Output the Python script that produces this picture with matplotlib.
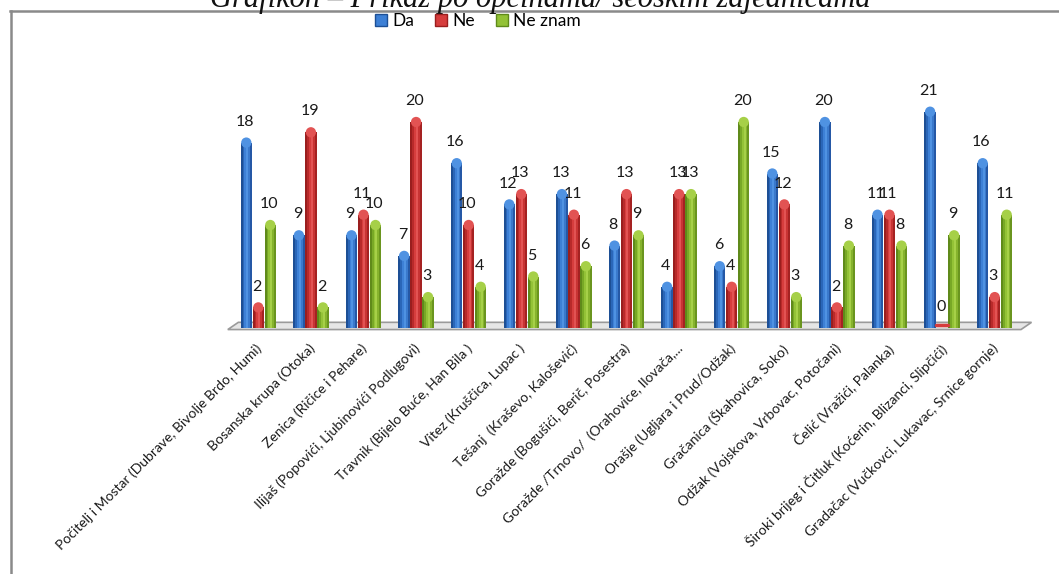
import matplotlib
matplotlib.use("Agg")
import matplotlib.pyplot as plt
import numpy as np
from matplotlib.patches import Patch, Polygon
from matplotlib.lines import Line2D

categories = [
    "Počitelj i Mostar (Dubrave, Bivolje Brdo, Humi)",
    "Bosanska krupa (Otoka)",
    "Zenica (Ričice i Pehare)",
    "Ilijaš (Popovići, Ljubinovići Podlugovi)",
    "Travnik (Bijelo Buće, Han Bila )",
    "Vitez (Kruščica, Lupac )",
    "Tešanj  (Kraševo, Kalošević)",
    "Goražde (Bogušići, Berič, Posestra)",
    "Goražde /Trnovo/  (Orahovice, Ilovača,...",
    "Orašje (Ugljara i Prud/Odžak)",
    "Gračanica (Škahovica, Soko)",
    "Odžak (Vojskova, Vrbovac, Potočani)",
    "Čelić (Vražići, Palanka)",
    "Široki brijeg i Čitluk (Koćerin, Blizanci, Slipčići)",
    "Gradačac (Vučkovci, Lukavac, Srnice gornje)",
]
series_names = ["Da", "Ne", "Ne znam"]
da = [18, 9, 9, 7, 16, 12, 13, 8, 4, 6, 15, 20, 11, 21, 16]
ne = [2, 19, 11, 20, 10, 13, 11, 13, 13, 4, 12, 2, 11, 0, 3]
ne_znam = [10, 2, 10, 3, 4, 5, 6, 9, 13, 20, 3, 8, 8, 9, 11]
title = "Grafikon – Prikaz po općinama/ seoskim zajednicama"

W, H = 1059, 574
fig = plt.figure(figsize=(W / 100, H / 100), dpi=100)
fig.patch.set_facecolor("white")

# axes placement in pixels
x_left, x_right = 232, 1021
y_base = 328
ppu = 10.3
ymax = 25
y_top = y_base - ymax * ppu
ax = fig.add_axes([x_left / W, 1 - y_base / H, (x_right - x_left) / W, (y_base - y_top) / H])
ax.set_xlim(-0.5, len(categories) - 0.5)
ax.set_ylim(0, ymax)
ax.axis("off")
ax.patch.set_alpha(0)

x = np.arange(len(categories))
offset = 0.228
bw = 0.215

palettes = [
    ["#1d4f95", "#2a66b8", "#3d80d6", "#4f92e2", "#3a79cc", "#2558a6"],
    ["#9a1e1e", "#b82a2a", "#d63d3d", "#e25353", "#c83434", "#a52222"],
    ["#5f8a1a", "#78a826", "#93c236", "#a6d048", "#86b32d", "#6a951f"],
]
data = [da, ne, ne_znam]

# floor
floor = Polygon([(-0.58, -0.15), (14.5, -0.15), (14.7, 0.55), (-0.38, 0.55)],
                closed=True, facecolor="#e6e6e6", edgecolor="#9a9a9a", lw=1.2,
                clip_on=False, zorder=1)
ax.add_patch(floor)

nsl = len(palettes[0])
for si, (vals, pal) in enumerate(zip(data, palettes)):
    xc = x + (si - 1) * offset
    sw = bw / nsl
    for k in range(nsl):
        xs = xc - bw / 2 + sw * (k + 0.5)
        ax.bar(xs, vals, width=sw * 1.02, color=pal[k], linewidth=0, zorder=3)
    # rounded cap
    sizes = [55 if v > 0 else 0 for v in vals]
    ax.scatter(xc, vals, s=sizes, marker="o", color=pal[3], zorder=4,
               linewidths=0, clip_on=False)
    for xi, v in zip(xc, vals):
        if v == 0:
            ax.plot([xi - bw / 2, xi + bw / 2], [0.3, 0.3], color=pal[2], lw=2.5,
                    solid_capstyle="round", zorder=4)
        ax.annotate(str(v), (xi, v), xytext=(-1, 15), textcoords="offset points",
                    ha="center", va="center", fontsize=11.5, color="#1a1a1a",
                    family="Lato", zorder=6, annotation_clip=False)

# x labels
for xi, lab in zip(x, categories):
    ax.annotate(lab, (xi, 0), xytext=(-2, -10), textcoords="offset points",
                ha="right", va="top", rotation=45, rotation_mode="anchor",
                fontsize=10, family="Lato", color="#1a1a1a", annotation_clip=False)

# legend
handles = [Patch(facecolor=palettes[i][2], edgecolor=palettes[i][0], label=series_names[i])
           for i in range(3)]
fig.legend(handles=handles, loc="center", bbox_to_anchor=(478 / W, 1 - 21 / H),
           ncol=3, frameon=False, handlelength=0.7, handleheight=0.7,
           handletextpad=0.3, columnspacing=1.2, prop={"family": "Lato", "size": 12.5})

# border
fig.add_artist(Line2D([10 / W, 1], [1 - 11 / H, 1 - 11 / H], color="#8a8a8a", lw=1.8))
fig.add_artist(Line2D([11 / W, 11 / W], [0, 1 - 11 / H], color="#8a8a8a", lw=1.8))

# title (partly cut off at top)
fig.text(540 / W, 1 - 7 / H, title, ha="center", va="baseline", fontsize=22,
         style="italic", family="Liberation Serif", color="#111111")

fig.savefig("out.png", dpi=100, facecolor="white")
